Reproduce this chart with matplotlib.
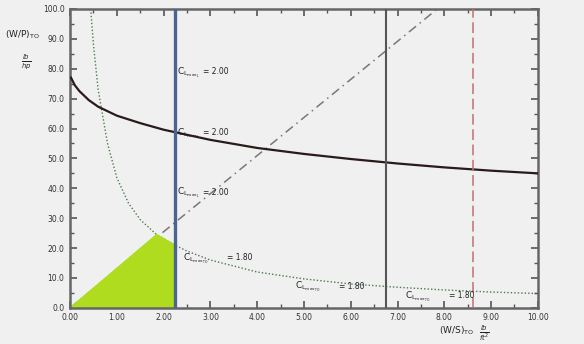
import numpy as np
import matplotlib
matplotlib.use('Agg')
import matplotlib.pyplot as plt
from matplotlib.ticker import MultipleLocator

# Power constraint curve (black)
ws_power = [0.02, 0.1, 0.2, 0.4, 0.6, 1.0, 1.5, 2.0, 3.0, 4.0, 5.0, 6.0, 7.0, 8.0, 9.0, 10.0]
wp_power = [77.0, 74.5, 72.5, 69.5, 67.3, 64.3, 61.8, 59.6, 56.2, 53.5, 51.5, 49.8, 48.3, 47.0, 45.9, 45.0]

# Takeoff constraint curve (green dotted)
ws_to = [0.44, 0.5, 0.6, 0.8, 1.0, 1.25, 1.5, 1.85, 2.24, 2.5, 3.0, 4.0, 5.0, 6.0, 7.0, 8.0, 9.0, 10.0]
wp_to = [100.0, 88.0, 73.0, 55.0, 43.5, 35.0, 29.5, 24.5, 21.0, 19.0, 16.0, 12.0, 9.7, 8.0, 6.9, 6.0, 5.3, 4.8]

# Climb constraint line (dash-dot)
ws_climb = [0.0, 7.85]
wp_climb = [0.0, 100.0]

# Vertical limits
ws_landing = 2.24
ws_stall = 6.75
ws_cruise = 8.62

# Feasible region corners
ws_region = [0.0, 1.85, 2.24, 2.24]
wp_region = [0.0, 24.5, 21.0, 0.0]

# Labels
cl_land_y = [81.0, 60.7, 40.7]
cl_to_pos = [(2.41, 18.7), (4.8, 9.3), (7.15, 6.0)]

bg = '#f0f0f0'
fig = plt.figure(figsize=(5.84, 3.44), dpi=100, facecolor=bg)
ax = fig.add_axes([0.12, 0.105, 0.801, 0.869])
ax.set_facecolor(bg)

# Feasible area (covers the lines below it)
ax.fill(ws_region, wp_region, color='#afdc1e', zorder=2)

# Curves
ax.plot(ws_power, wp_power, color='#2a1a1a', lw=1.6, zorder=3)
ax.plot(ws_to, wp_to, color='#4d7a4d', lw=1.0, ls=(0, (1, 1.5)), zorder=1)
ax.plot(ws_climb, wp_climb, color='#777777', lw=1.1, ls=(0, (6, 3, 1, 3)), zorder=1)
ax.axvline(ws_landing, color='#4a6590', lw=2.4, zorder=4)
ax.axvline(ws_stall, color='#555555', lw=1.5, zorder=4)
ax.axvline(ws_cruise, color='#c07070', lw=1.1, ls=(0, (7, 3)), zorder=4)

# Annotations
tc = '#222222'
for y in cl_land_y:
    ax.text(ws_landing + 0.05, y, r'$\mathrm{C_{L_{max_L}}}$', fontsize=6.5, color=tc,
            va='top', ha='left', zorder=5)
    ax.text(ws_landing + 0.6, y - 0.5, '= 2.00', fontsize=5.5, color=tc,
            va='top', ha='left', zorder=5)
for x, y in cl_to_pos:
    ax.text(x, y, r'$\mathrm{C_{L_{max_{TO}}}}$', fontsize=6.5, color=tc,
            va='top', ha='left', zorder=5)
    ax.text(x + 0.95, y - 0.5, '= 1.80', fontsize=5.5, color=tc,
            va='top', ha='left', zorder=5)

# Axes
ax.set_xlim(0, 10)
ax.set_ylim(0, 100)
ax.xaxis.set_major_locator(MultipleLocator(1))
ax.xaxis.set_minor_locator(MultipleLocator(0.5))
ax.yaxis.set_major_locator(MultipleLocator(10))
ax.yaxis.set_minor_locator(MultipleLocator(5))
ax.set_xticklabels([f'{v:.2f}' for v in ax.get_xticks()])
ax.set_yticklabels([f'{v:.1f}' for v in ax.get_yticks()])
ax.tick_params(which='both', direction='in', top=True, right=True,
               colors='#555555', labelcolor='#333333', labelsize=5.5, pad=4)
ax.tick_params(which='major', length=5, width=1.2)
ax.tick_params(which='minor', length=3, width=1.0)
for s in ax.spines.values():
    s.set_color('#666666')
    s.set_linewidth(1.8)

# Axis titles
fig.text(0.008, 0.90, r'$\mathrm{(W/P)_{TO}}$', fontsize=6.5, color=tc, ha='left', va='center')
fig.text(0.045, 0.82, r'$\frac{lb}{hp}$', fontsize=7, color=tc, ha='center', va='center')
fig.text(0.752, 0.038, r'$\mathrm{(W/S)_{TO}}$', fontsize=6.5, color=tc, ha='left', va='center')
fig.text(0.83, 0.032, r'$\frac{lb}{ft^2}$', fontsize=7, color=tc, ha='center', va='center')

fig.savefig('out.png', dpi=100, facecolor=bg)
